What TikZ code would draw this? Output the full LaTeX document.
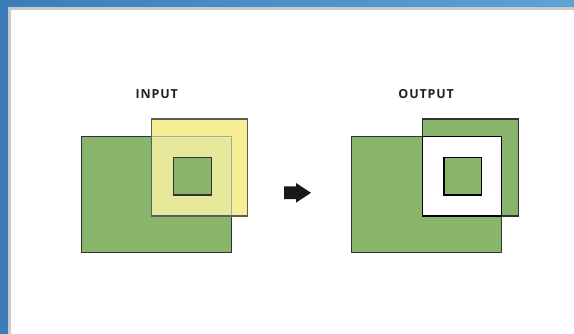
\documentclass[tikz,border=0pt]{standalone}
\usepackage{fontspec}
\newfontfamily\labfont[LetterSpace=7]{Open Sans Bold}
\definecolor{winblueL}{HTML}{3C7DB9}
\definecolor{winblueR}{HTML}{5FA2D6}
\definecolor{frameg}{HTML}{C9C9C9}
\definecolor{fgreen}{HTML}{88B46C}
\definecolor{fyellow}{HTML}{F7EF95}
\definecolor{fmix}{HTML}{E6E89C}
\definecolor{edgec}{HTML}{333333}
\definecolor{labc}{HTML}{222222}
\tikzset{
  box/.style={rectangle, inner sep=0pt, outer sep=0pt, line width=1.2pt, draw=edgec},
  greenbox/.style={box, fill=fgreen},
  lab/.style={font=\labfont\fontsize{12.5}{14}\selectfont, text=labc, inner sep=0pt},
}
\begin{document}
\begin{tikzpicture}[x=1pt,y=-1pt]
\useasboundingbox (0,0) rectangle (574,334);
% window frame
\shade[left color=winblueL, right color=winblueR] (0,0) rectangle (574,334);
\fill[frameg] (8,7) rectangle (574,334);
\fill[white] (11,10) rectangle (574,334);

% ---------- INPUT ----------
\node[lab] (inlab) at (156.7,94.5) {INPUT};
\node[greenbox, minimum width=150pt, minimum height=116pt] (inbig) at (156.7,194.7) {};
\node[box, fill=fyellow, draw=edgec!80, minimum width=96pt, minimum height=97pt] (inyel) at (199.7,167.5) {};
\node[rectangle, inner sep=0pt, outer sep=0pt, fill=fmix, minimum width=79pt, minimum height=78.3pt] (inmix) at (191.7,176.85) {};
\draw[line width=1.2pt, draw=black!35] (inyel.west |- inbig.north) -| (inbig.east |- inyel.south);
\draw[line width=1.2pt, draw=edgec!80] (inyel.south west) -- (inyel.south east);
\node[greenbox, minimum width=37.6pt, minimum height=37.7pt] (insmall) at (192.5,176.15) {};

% ---------- arrow ----------
\fill[black!90] (284,186.5) -- (296,186.5) -- (296,183) -- (311,192.8) -- (296,202.7) -- (296,199.2) -- (284,199.2) -- cycle;

% ---------- OUTPUT ----------
\node[lab] (outlab) at (426.2,94.5) {OUTPUT};
\node[greenbox, minimum width=150pt, minimum height=116pt] (outbig) at (426.7,194.7) {};
\node[greenbox, minimum width=96pt, minimum height=97pt] (outsq) at (470.3,167.5) {};
\node[box, fill=white, draw=black, minimum width=79.4pt, minimum height=79.3pt] (outhole) at (462,176.35) {};
\node[greenbox, draw=black, minimum width=37.3pt, minimum height=37.7pt] (outsmall) at (462.7,176.15) {};
\end{tikzpicture}
\end{document}
